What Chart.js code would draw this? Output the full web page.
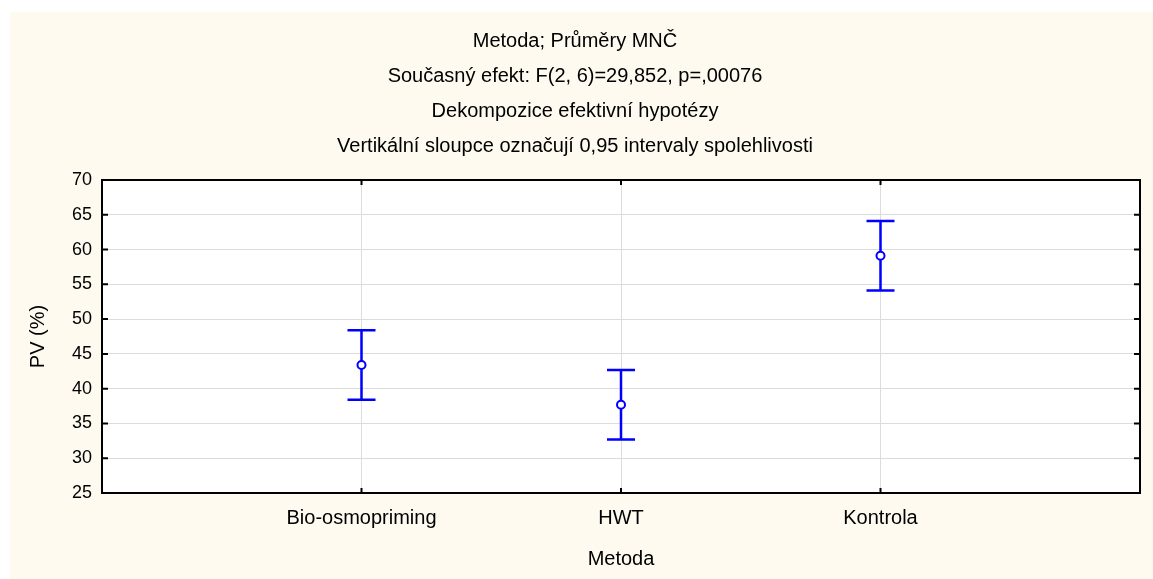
<!DOCTYPE html>
<html>
<head>
<meta charset="utf-8">
<script src="https://cdn.jsdelivr.net/npm/chart.js@4"></script>
<style>
html,body{margin:0;padding:0;background:#ffffff;}
#wrap{width:1153px;height:579px;}
</style>
</head>
<body>
<div id="wrap"><canvas id="c" width="1153" height="579"></canvas></div>
<script>
const categories = ['Bio-osmopriming', 'HWT', 'Kontrola'];
const means = [43.4, 37.7, 59.1];
const lower = [38.4, 32.7, 54.1];
const upper = [48.4, 42.7, 64.1];
const yTicks = [25, 30, 35, 40, 45, 50, 55, 60, 65, 70];
const titleLines = [
  'Metoda; Průměry MNČ',
  'Současný efekt: F(2, 6)=29,852, p=,00076',
  'Dekompozice efektivní hypotézy',
  'Vertikální sloupce označují 0,95 intervaly spolehlivosti'
];

const FONT = 'Liberation Sans, Arial, sans-serif';
const BLUE = '#0000ff';

const bgPlugin = {
  id: 'bg',
  beforeDraw(chart) {
    const ctx = chart.ctx, a = chart.chartArea;
    ctx.save();
    ctx.fillStyle = '#ffffff';
    ctx.fillRect(0, 0, chart.width, chart.height);
    ctx.fillStyle = '#fefaf0';
    ctx.fillRect(10, 12, chart.width - 10, chart.height - 12);
    ctx.fillStyle = '#ffffff';
    ctx.fillRect(a.left, a.top, a.right - a.left, a.bottom - a.top);
    ctx.restore();
  }
};

const errPlugin = {
  id: 'err',
  beforeDatasetsDraw(chart) {
    const ctx = chart.ctx, xs = chart.scales.x, ys = chart.scales.y;
    ctx.save();
    ctx.strokeStyle = BLUE;
    ctx.lineWidth = 2.5;
    categories.forEach((c, i) => {
      const px = xs.getPixelForValue(i + 1);
      const pl = ys.getPixelForValue(lower[i]);
      const pu = ys.getPixelForValue(upper[i]);
      ctx.beginPath();
      ctx.moveTo(px, pl); ctx.lineTo(px, pu);
      ctx.moveTo(px - 14, pl); ctx.lineTo(px + 14, pl);
      ctx.moveTo(px - 14, pu); ctx.lineTo(px + 14, pu);
      ctx.stroke();
    });
    ctx.restore();
  }
};

const framePlugin = {
  id: 'frame',
  afterDraw(chart) {
    const ctx = chart.ctx, a = chart.chartArea, xs = chart.scales.x, ys = chart.scales.y;
    ctx.save();
    ctx.strokeStyle = '#000000';
    ctx.lineWidth = 2;
    ctx.beginPath();
    ys.ticks.forEach(t => {
      const py = ys.getPixelForValue(t.value);
      ctx.moveTo(a.left, py); ctx.lineTo(a.left + 6, py);
      ctx.moveTo(a.right, py); ctx.lineTo(a.right - 6, py);
    });
    xs.ticks.forEach(t => {
      const px = xs.getPixelForValue(t.value);
      ctx.moveTo(px, a.bottom); ctx.lineTo(px, a.bottom - 5);
      ctx.moveTo(px, a.top); ctx.lineTo(px, a.top + 5);
    });
    ctx.stroke();
    ctx.strokeRect(a.left, a.top, a.right - a.left, a.bottom - a.top);
    ctx.restore();
  }
};

new Chart(document.getElementById('c'), {
  type: 'scatter',
  data: {
    datasets: [{
      data: means.map((m, i) => ({ x: i + 1, y: m })),
      pointRadius: 4,
      pointHoverRadius: 4,
      pointBorderWidth: 2,
      pointBorderColor: BLUE,
      pointBackgroundColor: '#ffffff',
      showLine: false
    }]
  },
  options: {
    responsive: false,
    animation: false,
    events: [],
    layout: { padding: { left: 10, right: 13, top: 0, bottom: 0 } },
    plugins: {
      legend: { display: false },
      tooltip: { enabled: false },
      title: {
        display: true,
        text: titleLines,
        color: '#000000',
        font: { family: FONT, size: 20, weight: 'normal', lineHeight: 35 / 20 },
        padding: { top: 23.5, bottom: 16.5 }
      }
    },
    scales: {
      x: {
        type: 'linear',
        min: 0, max: 4,
        afterBuildTicks: s => { s.ticks = categories.map((c, i) => ({ value: i + 1 })); },
        afterFit: s => { s.height = 86; },
        grid: { color: '#dcdcdc', lineWidth: 1, drawTicks: false },
        border: { display: false },
        ticks: {
          callback: v => categories[v - 1],
          color: '#000000',
          font: { family: FONT, size: 20 },
          padding: 13,
          maxRotation: 0, autoSkip: false
        },
        title: {
          display: true, text: 'Metoda', color: '#000000',
          font: { family: FONT, size: 20 },
          padding: { top: 0, bottom: 8 }
        }
      },
      y: {
        min: 25, max: 70,
        afterBuildTicks: s => { s.ticks = yTicks.map(v => ({ value: v })); },
        afterFit: s => { s.width = 92; },
        grid: { color: '#dcdcdc', lineWidth: 1, drawTicks: false },
        border: { display: false },
        ticks: {
          color: '#000000',
          font: { family: FONT, size: 18 },
          padding: 10
        },
        title: {
          display: true, text: 'PV (%)', color: '#000000',
          font: { family: FONT, size: 20 },
          padding: { top: 16, bottom: 0 }
        }
      }
    }
  },
  plugins: [bgPlugin, errPlugin, framePlugin]
});
</script>
</body>
</html>
